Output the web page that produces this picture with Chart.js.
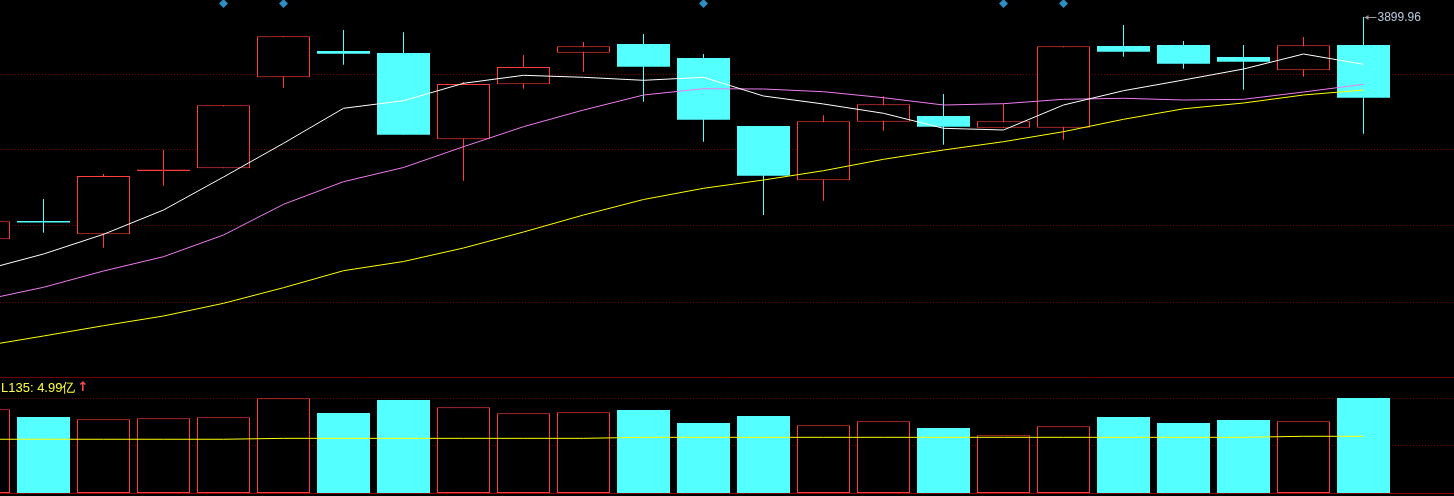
<!DOCTYPE html>
<html>
<head>
<meta charset="utf-8">
<script src="https://cdn.jsdelivr.net/npm/chart.js@4.4.1/dist/chart.umd.min.js"></script>
<style>
  html, body { margin: 0; padding: 0; background: #000; overflow: hidden; }
  canvas { display: block; }
</style>
</head>
<body>
<canvas id="kline" width="1454" height="378"></canvas>
<canvas id="volume" width="1454" height="118"></canvas>
<script>
// daily candles, oldest first
const opens  = [3699.89, 3716.30, 3704.39, 3761.36, 3763.79, 3845.69, 3869.36, 3867.56, 3789.89, 3839.39, 3867.83, 3875.66,
                3863.06, 3801.86, 3752.99, 3805.73, 3810.86, 3800.33, 3800.33, 3873.86, 3874.76, 3863.96, 3851.99, 3874.76];
const highs  = [3716.09, 3736.16, 3758.66, 3780.26, 3820.49, 3882.59, 3888.26, 3886.19, 3841.46, 3865.76, 3877.46, 3884.66,
                3866.66, 3801.86, 3811.49, 3828.59, 3830.66, 3821.93, 3873.59, 3892.76, 3878.36, 3874.76, 3881.96, 3899.96];
const lows   = [3699.89, 3705.83, 3692.33, 3748.13, 3763.79, 3836.33, 3857.03, 3794.03, 3752.63, 3835.43, 3850.73, 3823.73,
                3787.73, 3721.76, 3734.63, 3797.63, 3785.03, 3800.33, 3789.53, 3864.23, 3853.43, 3834.53, 3846.23, 3794.93];
const closes = [3716.09, 3715.00, 3756.86, 3762.62, 3820.49, 3882.59, 3866.93, 3794.03, 3839.66, 3854.96, 3873.59, 3855.23,
                3807.53, 3757.13, 3806.09, 3821.39, 3801.23, 3806.09, 3873.59, 3868.73, 3857.93, 3859.73, 3874.49, 3827.33];

// moving averages
const ma5  = [3672.26, 3686.66, 3704.39, 3726.26, 3755.96, 3786.29, 3817.79, 3824.63, 3840.29, 3847.49, 3845.69, 3842.99,
              3845.69, 3828.86, 3821.66, 3813.29, 3799.79, 3798.26, 3820.76, 3833.63, 3843.26, 3853.16, 3866.66, 3857.39];
const ma10 = [3645.26, 3656.69, 3671.36, 3684.23, 3703.76, 3731.39, 3751.73, 3764.51, 3783.23, 3801.23, 3816.26, 3829.76,
              3835.43, 3835.16, 3832.73, 3827.33, 3820.76, 3821.93, 3825.89, 3826.79, 3825.26, 3825.89, 3832.46, 3839.39];
const ma20 = [3603.86, 3612.86, 3622.13, 3630.86, 3642.29, 3656.33, 3671.63, 3679.91, 3692.06, 3706.46, 3721.76, 3735.71,
              3745.79, 3753.26, 3761.63, 3771.89, 3780.26, 3787.73, 3796.73, 3807.89, 3817.34, 3822.56, 3829.76, 3834.26];

// volume (亿) and its average
const volumes = [7.37, 6.69, 6.49, 6.57, 6.66, 8.33, 7.04, 8.18, 7.54, 7.01, 7.10, 7.30,
                 6.16, 6.78, 5.96, 6.31, 5.72, 5.08, 5.87, 6.69, 6.16, 6.42, 6.31, 8.36];
const volMA = [4.73, 4.73, 4.73, 4.73, 4.73, 4.81, 4.81, 4.81, 4.81, 4.81, 4.81, 4.90,
               4.90, 4.90, 4.90, 4.90, 4.90, 4.90, 4.90, 4.90, 4.90, 4.90, 4.99, 4.99];
const volMAName = 'L135';

// signal diamonds along the top
const signalDays = [4, 5, 12, 17, 18];
const signalLevel = 3912.1;

// horizontal guide levels
const priceGrid = [3643.00, 3712.13, 3780.26, 3848.39];
const volGrid = [4.18, 8.36];

const RED = '#ff3b3b';
const CYAN = '#54ffff';
const GRID = '#7a0000';
const days = opens.map((_, i) => i);
const isUp = i => closes[i] >= opens[i];

const xAxis = (borderColor) => ({
    type: 'linear',
    min: 0.275,
    max: 24.50833,
    offset: false,
    grid: { display: false, offset: false, drawTicks: false },
    border: { display: true, color: borderColor, width: 1 },
    ticks: { display: false },
    afterFit: s => { s.height = 0; }
});

const peakLabel = {
    id: 'peakLabel',
    afterDatasetsDraw(chart) {
        const {ctx, scales: {x, y}} = chart;
        const i = highs.indexOf(Math.max(...highs));
        const px = x.getPixelForValue(i);
        const py = Math.round(y.getPixelForValue(highs[i])) + 0.5;
        ctx.save();
        ctx.strokeStyle = '#9a9a9a';
        ctx.lineWidth = 1;
        ctx.beginPath();
        ctx.moveTo(px + 1, py);
        ctx.lineTo(px + 13, py);
        ctx.stroke();
        ctx.fillStyle = '#9a9a9a';
        ctx.beginPath();
        ctx.moveTo(px + 1, py);
        ctx.lineTo(px + 5, py - 2.5);
        ctx.lineTo(px + 5, py + 2.5);
        ctx.closePath();
        ctx.fill();
        ctx.font = '12px "Liberation Sans", Arial, sans-serif';
        ctx.fillStyle = '#b9cbe0';
        ctx.textBaseline = 'middle';
        ctx.fillText(highs[i].toFixed(2), px + 14, py);
        ctx.restore();
    }
};

const volLabel = {
    id: 'volLabel',
    afterDraw(chart) {
        const ctx = chart.ctx;
        ctx.save();
        ctx.font = '13px "Liberation Sans", Arial, sans-serif';
        ctx.textBaseline = 'middle';
        ctx.fillStyle = '#ffff3c';
        const txt = volMAName + ': ' + volMA[volMA.length - 1].toFixed(2) + '亿';
        ctx.fillText(txt, 1, 10);
        const w = ctx.measureText(txt).width;
        ctx.fillStyle = '#ff4a4a';
        ctx.font = 'bold 13px "DejaVu Sans", sans-serif';
        ctx.fillText('↑', w + 3, 10);
        ctx.restore();
    }
};

new Chart(document.getElementById('kline'), {
    type: 'bar',
    data: {
        datasets: [{
            type: 'line',
            label: 'signal',
            data: signalDays.map(i => ({x: i, y: signalLevel})),
            showLine: false,
            pointStyle: 'rectRot',
            pointRadius: 4.5,
            pointBackgroundColor: '#2b8fc3',
            pointBorderWidth: 0,
            clip: false,
            order: -1
        }, {
            type: 'line',
            label: 'MA5',
            data: days.map(i => ({x: i, y: ma5[i]})),
            borderColor: '#ffffff',
            borderWidth: 1,
            pointRadius: 0,
            order: 0
        }, {
            type: 'line',
            label: 'MA10',
            data: days.map(i => ({x: i, y: ma10[i]})),
            borderColor: '#f07cf0',
            borderWidth: 1,
            pointRadius: 0,
            order: 0
        }, {
            type: 'line',
            label: 'MA20',
            data: days.map(i => ({x: i, y: ma20[i]})),
            borderColor: '#ffff00',
            borderWidth: 1,
            pointRadius: 0,
            order: 0
        }, {
            label: 'body',
            data: days.map(i => ({x: i, y: [opens[i], closes[i]]})),
            backgroundColor: days.map(i => isUp(i) ? '#000000' : CYAN),
            borderColor: days.map(i => isUp(i) ? RED : CYAN),
            borderWidth: days.map(i => isUp(i) ? 1 : 0),
            borderSkipped: false,
            inflateAmount: 0,
            barThickness: 53,
            grouped: false,
            order: 1
        }, {
            label: 'wick',
            data: days.map(i => ({x: i, y: [lows[i], highs[i]]})),
            backgroundColor: days.map(i => isUp(i) ? RED : CYAN),
            borderWidth: 0,
            inflateAmount: 0,
            barThickness: 1,
            grouped: false,
            order: 2
        }]
    },
    options: {
        responsive: false,
        animation: false,
        events: [],
        layout: { autoPadding: false, padding: { left: 0, right: 0, top: 0, bottom: 1 } },
        plugins: { legend: { display: false }, tooltip: { enabled: false } },
        scales: {
            x: xAxis('#6e0000'),
            y: {
                min: 3575.96,
                max: 3915.26,
                ticks: { display: false },
                grid: { color: GRID, drawTicks: false },
                border: { display: false, dash: [1, 2] },
                afterBuildTicks: s => { s.ticks = priceGrid.map(v => ({value: v})); },
                afterFit: s => { s.width = 0; }
            }
        }
    },
    plugins: [peakLabel]
});

new Chart(document.getElementById('volume'), {
    type: 'bar',
    data: {
        datasets: [{
            type: 'line',
            label: volMAName,
            data: days.map(i => ({x: i, y: volMA[i]})),
            borderColor: '#ffff00',
            borderWidth: 1,
            pointRadius: 0,
            order: 0
        }, {
            label: 'volume',
            data: days.map(i => ({x: i, y: volumes[i]})),
            backgroundColor: days.map(i => isUp(i) ? '#000000' : CYAN),
            borderColor: days.map(i => isUp(i) ? RED : CYAN),
            borderWidth: days.map(i => isUp(i) ? 1 : 0),
            borderSkipped: false,
            inflateAmount: 0,
            barThickness: 53,
            grouped: false,
            order: 1
        }]
    },
    options: {
        responsive: false,
        animation: false,
        events: [],
        layout: { autoPadding: false, padding: { left: 0, right: 0, top: 0, bottom: 3 } },
        plugins: { legend: { display: false }, tooltip: { enabled: false } },
        scales: {
            x: xAxis('#8a0000'),
            y: {
                min: 0,
                max: 10.12,
                ticks: { display: false },
                grid: { color: GRID, drawTicks: false },
                border: { display: false, dash: [1, 2] },
                afterBuildTicks: s => { s.ticks = volGrid.map(v => ({value: v})); },
                afterFit: s => { s.width = 0; }
            }
        }
    },
    plugins: [volLabel]
});
</script>
</body>
</html>
